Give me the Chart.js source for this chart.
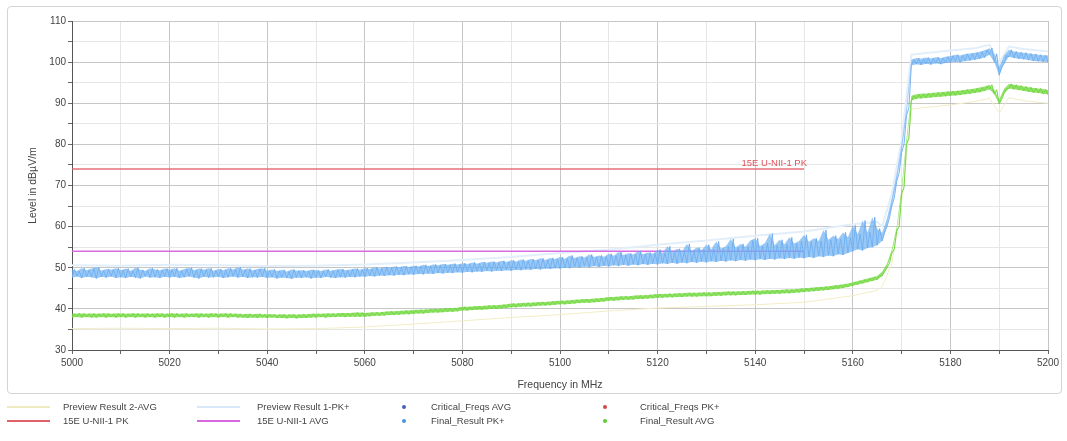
<!DOCTYPE html>
<html>
<head>
<meta charset="utf-8">
<script src="https://cdn.jsdelivr.net/npm/chart.js@4/dist/chart.umd.min.js"></script>
<style>
  html, body { margin: 0; padding: 0; background: #fff; }
  body { width: 1067px; height: 441px; position: relative; overflow: hidden; font-family: "Liberation Sans", Arial, sans-serif; }
  #frame { position: absolute; left: 7px; top: 6px; width: 1053px; height: 386px; border: 1px solid #d4d4d4; border-radius: 4px; }
  #chart { position: absolute; left: 0; top: 0; }
  #legend { position: absolute; left: 0; top: 398px; width: 1067px; height: 40px; font-size: 9.5px; color: #444; }
  .item { position: absolute; height: 14px; line-height: 14px; white-space: nowrap; }
  .item .sym { position: absolute; top: 0; height: 14px; }
  .item .sym.line i { position: absolute; left: 0; right: 0; top: 6px; height: 2px; }
  .item .sym.dot i { position: absolute; left: 50%; top: 5px; width: 4px; height: 4px; margin-left: -2px; border-radius: 2px; }
  .item span { position: absolute; }
</style>
</head>
<body>
<div id="frame"></div>
<canvas id="chart" width="1067" height="441"></canvas>
<div id="legend"></div>
<script>
// frequency axis, one sample per MHz
const freqStart = 5000;
const freqEnd = 5200;
const freq = [];
for (let f = freqStart; f <= freqEnd; f++) freq.push(f);

// PK+ trace: lower and upper edge of the noise band
const pkLow = [
  47.6,47.9,47.5,47.8,47.7,47.4,47.8,47.6,47.9,47.5,
  47.7,47.5,47.8,47.6,47.4,47.9,47.6,47.7,47.5,47.8,
  47.6,47.8,47.5,47.7,47.9,47.6,47.4,47.8,47.6,47.7,
  47.8,47.5,47.7,47.9,47.6,47.8,47.5,47.7,47.6,47.8,
  47.5,47.7,47.4,47.6,47.5,47.3,47.6,47.5,47.7,47.4,
  47.6,47.5,47.8,47.6,47.5,47.7,47.6,47.8,47.7,47.9,
  47.8,48.0,47.9,48.1,48.0,48.2,48.1,48.3,48.2,48.4,
  48.3,48.5,48.4,48.6,48.5,48.7,48.6,48.8,48.7,48.9,
  48.8,49.0,48.9,49.1,49.0,49.2,49.1,49.3,49.2,49.4,
  49.3,49.5,49.4,49.6,49.5,49.7,49.6,49.8,49.7,49.9,
  49.8,50.0,49.9,50.2,50.0,50.3,50.1,50.4,50.2,50.5,
  50.3,50.6,50.4,50.7,50.5,50.8,50.6,50.9,50.7,51.0,
  50.8,51.1,50.9,51.2,51.0,51.3,51.1,51.4,51.2,51.5,
  51.3,51.6,51.4,51.7,51.5,51.8,51.6,51.9,51.7,52.0,
  51.8,52.1,51.9,52.2,52.0,52.3,52.1,52.4,52.2,52.5,
  52.3,52.6,52.4,52.8,52.6,53.0,52.8,53.3,53.1,53.6,
  54.0,54.5,54.2,54.8,55.0,55.5,56.5,60.0,65.0,71.0,
  78.0,87.0,99.2,99.5,99.3,99.6,99.4,99.7,99.5,99.8,
  99.9,100.1,100.0,100.3,100.4,100.6,100.8,101.1,101.8,100.0,
  96.8,99.6,101.3,101.0,100.8,100.7,100.5,100.3,100.2,100.1,
  100.0
];
const pkHigh = [
  49.6,49.2,49.9,49.4,49.8,50.1,49.3,49.7,49.5,49.9,
  49.4,49.8,49.2,50.0,49.5,49.3,49.9,49.6,49.4,49.8,
  49.5,49.9,49.3,49.7,50.0,49.4,49.8,49.5,49.9,49.3,
  49.7,49.4,49.9,49.6,50.1,49.5,49.8,49.4,49.7,49.9,
  49.3,49.6,49.2,49.5,49.1,49.6,49.3,49.4,49.2,49.5,
  49.4,49.2,49.6,49.3,49.5,49.7,49.4,49.6,49.8,49.5,
  49.9,49.7,50.1,49.8,50.2,50.0,50.3,50.1,50.4,50.2,
  50.5,50.3,50.7,50.4,50.8,50.6,50.9,50.7,51.0,50.8,
  51.1,50.9,51.3,51.0,51.4,51.2,51.5,51.3,51.7,51.4,
  51.8,51.5,52.0,51.7,52.1,51.8,52.3,51.9,52.4,52.1,
  52.6,52.2,53.0,52.4,52.8,52.5,53.2,52.6,53.0,52.7,
  53.4,52.9,53.8,53.1,53.5,53.2,54.0,53.3,53.7,53.4,
  54.4,53.6,55.2,53.8,54.6,54.0,55.8,54.1,54.9,54.3,
  55.6,54.5,56.4,54.7,55.2,57.0,54.9,55.8,55.1,56.6,
  57.2,55.3,56.0,58.3,55.5,56.8,55.7,57.4,55.9,56.5,
  58.0,56.3,57.2,56.5,59.2,56.8,57.8,57.0,58.6,57.4,
  60.3,58.2,61.5,58.6,62.3,59.5,58.5,62.0,67.0,73.0,
  80.0,89.0,100.6,101.0,100.8,101.1,100.9,101.2,101.0,101.3,
  101.5,101.8,101.6,102.0,102.1,102.3,102.5,102.9,103.4,102.0,
  98.8,101.6,103.0,102.6,102.4,102.3,102.1,102.0,101.8,101.7,
  101.6
];

// AVG trace: lower and upper edge
const avgLow = [
  37.9,38.0,37.9,38.0,37.9,37.9,38.0,37.9,38.0,37.9,
  38.0,37.9,38.0,37.9,38.0,37.9,38.0,37.9,38.0,37.9,
  38.0,37.9,38.0,37.9,38.0,38.0,37.9,38.0,37.9,38.0,
  37.9,38.0,37.9,38.0,37.9,37.9,37.8,37.9,37.8,37.9,
  37.8,37.9,37.8,37.8,37.7,37.8,37.7,37.8,37.8,37.9,
  37.9,38.0,37.9,38.0,38.0,38.1,38.0,38.1,38.1,38.1,
  38.1,38.2,38.3,38.3,38.4,38.5,38.5,38.6,38.7,38.7,
  38.8,38.9,38.9,39.0,39.1,39.1,39.2,39.3,39.3,39.4,
  39.6,39.6,39.7,39.8,39.8,39.9,40.0,40.0,40.1,40.2,
  40.4,40.4,40.5,40.6,40.6,40.7,40.8,40.8,40.9,41.0,
  41.1,41.1,41.2,41.3,41.4,41.5,41.5,41.6,41.7,41.8,
  42.0,42.0,42.1,42.2,42.2,42.3,42.4,42.4,42.5,42.6,
  42.7,42.7,42.8,42.8,42.9,42.9,43.0,43.0,43.0,43.1,
  43.1,43.1,43.2,43.2,43.3,43.3,43.3,43.4,43.4,43.5,
  43.5,43.5,43.6,43.6,43.7,43.7,43.8,43.8,43.9,44.0,
  44.1,44.2,44.3,44.4,44.5,44.6,44.8,44.9,45.1,45.3,
  45.6,45.9,46.2,46.5,46.8,47.1,48.0,50.0,53.5,59.0,
  68.0,80.0,90.6,91.1,91.2,91.3,91.4,91.5,91.6,91.7,
  91.8,91.9,92.0,92.2,92.3,92.5,92.7,93.0,93.4,92.2,
  89.8,92.4,93.6,93.4,93.2,93.0,92.8,92.6,92.5,92.3,
  92.1
];
const avgHigh = [
  38.8,38.9,38.9,38.8,38.9,38.8,38.9,38.9,38.8,38.9,
  38.9,38.8,38.9,38.9,38.8,38.9,38.8,38.9,38.9,38.8,
  38.9,38.9,38.8,38.9,38.8,38.9,38.9,38.8,38.9,38.9,
  38.8,38.9,38.9,38.8,38.8,38.7,38.8,38.7,38.8,38.7,
  38.7,38.7,38.6,38.7,38.6,38.7,38.6,38.7,38.7,38.8,
  38.8,38.8,38.9,38.9,38.9,39.0,39.0,39.0,39.1,39.1,
  39.0,39.1,39.2,39.2,39.3,39.4,39.4,39.5,39.6,39.6,
  39.7,39.8,39.8,39.9,40.0,40.0,40.1,40.2,40.2,40.3,
  40.5,40.5,40.6,40.7,40.7,40.8,40.9,40.9,41.0,41.1,
  41.3,41.3,41.4,41.5,41.5,41.6,41.7,41.7,41.8,41.9,
  42.0,42.0,42.1,42.2,42.3,42.4,42.4,42.5,42.6,42.7,
  42.9,42.9,43.0,43.1,43.1,43.2,43.3,43.3,43.4,43.5,
  43.6,43.6,43.7,43.7,43.8,43.8,43.9,43.9,43.9,44.0,
  44.0,44.0,44.1,44.1,44.2,44.2,44.2,44.3,44.3,44.4,
  44.4,44.4,44.5,44.5,44.6,44.6,44.7,44.7,44.8,44.9,
  45.0,45.1,45.2,45.3,45.4,45.5,45.7,45.8,46.0,46.2,
  46.5,46.8,47.1,47.4,47.7,48.0,49.0,51.0,54.5,60.0,
  69.5,81.5,91.8,92.2,92.3,92.4,92.5,92.6,92.7,92.8,
  92.9,93.0,93.1,93.3,93.4,93.6,93.8,94.1,94.5,93.3,
  90.9,93.5,94.7,94.5,94.3,94.1,93.9,93.7,93.6,93.4,
  93.2
];

// faint preview traces
const previewFreq = [5000,5010,5020,5030,5040,5050,5060,5070,5080,5090,5100,5110,5120,5130,5140,5150,5160,5165,5166,5168,5170,5172,5175,5180,5185,5188,5190,5192,5195,5200];
const previewAvg = [35.2,35.3,35.2,35.3,35.1,35.2,35.6,36.3,37.1,37.9,38.6,39.5,40.2,40.6,41.0,41.6,43.2,44.5,45.4,51.0,65.5,88.6,89.0,89.6,90.4,91.2,87.6,91.4,90.6,90.0];
const previewPk = [50.6,50.5,50.7,50.6,50.4,50.5,50.8,51.3,51.9,52.6,53.6,54.4,55.6,56.6,57.8,58.8,60.6,61.2,60.0,68.0,81.0,101.8,102.2,102.8,103.4,104.2,99.8,103.8,103.2,102.6];

// limit lines
const limitFreq = [5000, 5150];
const limitPk = [74, 74];
const limitAvg = [54, 54];
const limitPkLabel = "15E U-NII-1 PK";

// axis ticks
const yMin = 30, yMax = 110, yStep = 5, yLabelEvery = 10;
const xStep = 10, xLabelEvery = 20;

const zigzag = (lo, hi) => {
  const pts = [];
  for (let i = 0; i < freq.length; i++) {
    pts.push({ x: freq[i], y: lo[i] });
    pts.push({ x: freq[i] + 0.5, y: hi[i] });
  }
  return pts;
};
const pairs = (xs, ys) => xs.map((x, i) => ({ x: x, y: ys[i] }));

// series shown in the legend (4 columns x 2 rows)
const datasets = [
  { label: "Preview Result 2-AVG", data: pairs(previewFreq, previewAvg), borderColor: "#f1eec6", borderWidth: 1, order: 9, legend: { kind: "line", col: 0, row: 0, color: "#eeebc0" } },
  { label: "15E U-NII-1 PK", data: pairs(limitFreq, limitPk), borderColor: "rgba(226,96,104,0.9)", borderWidth: 1.6, order: 3, legend: { kind: "line", col: 0, row: 1, color: "#e06068" } },
  { label: "Preview Result 1-PK+", data: pairs(previewFreq, previewPk), borderColor: "#e2eefa", borderWidth: 2, order: 8, legend: { kind: "line", col: 1, row: 0, color: "#d8e8f8" } },
  { label: "15E U-NII-1 AVG", data: pairs(limitFreq, limitAvg), borderColor: "rgba(214,100,226,0.95)", borderWidth: 1.6, order: 6, legend: { kind: "line", col: 1, row: 1, color: "#d868e0" } },
  { label: "Critical_Freqs AVG", data: [], legend: { kind: "dot", col: 2, row: 0, color: "#4a5fc4" } },
  { label: "Final_Result PK+", data: zigzag(pkLow, pkHigh), borderColor: "rgba(92,162,236,0.8)", borderWidth: 1, order: 4, legend: { kind: "dot", col: 2, row: 1, color: "#4a94e0" } },
  { label: "Critical_Freqs PK+", data: [], legend: { kind: "dot", col: 3, row: 0, color: "#d04848" } },
  { label: "Final_Result AVG", data: zigzag(avgLow, avgHigh), borderColor: "rgba(100,210,50,0.9)", borderWidth: 1, order: 5, legend: { kind: "dot", col: 3, row: 1, color: "#5ccc30" } },
];

// filled bands between the edges (no legend entry)
const bands = [
  { label: "pk-low", data: pairs(freq, pkLow), borderWidth: 0, borderColor: "transparent", order: 4 },
  { label: "pk-high", data: pairs(freq, pkHigh), borderWidth: 0, borderColor: "transparent", backgroundColor: "rgba(110,176,242,0.7)", fill: "-1", order: 4 },
  { label: "avg-low", data: pairs(freq, avgLow), borderWidth: 0, borderColor: "transparent", order: 5 },
  { label: "avg-high", data: pairs(freq, avgHigh), borderWidth: 0, borderColor: "transparent", backgroundColor: "rgba(112,216,60,0.75)", fill: "-1", order: 5 },
];

const gridColor = (major) => (ctx) => {
  const v = ctx.tick ? ctx.tick.value : null;
  return v !== null && v % major === 0 ? "#c6c6c6" : "#e6e6e6";
};

// axis titles and limit label
const textPlugin = {
  id: "texts",
  afterDraw(chart) {
    const { ctx, chartArea, scales } = chart;
    ctx.save();
    ctx.fillStyle = "#444";
    ctx.font = "10.5px 'Liberation Sans', Arial, sans-serif";
    ctx.textAlign = "center";
    ctx.textBaseline = "middle";
    ctx.fillText("Frequency in MHz", (chartArea.left + chartArea.right) / 2, 385);
    ctx.translate(33, (chartArea.top + chartArea.bottom) / 2);
    ctx.rotate(-Math.PI / 2);
    ctx.fillText("Level in dB\u00b5V/m", 0, 0);
    ctx.restore();

    ctx.save();
    ctx.fillStyle = "rgb(222,84,92)";
    ctx.font = "9.5px 'Liberation Sans', Arial, sans-serif";
    ctx.textAlign = "right";
    ctx.textBaseline = "bottom";
    ctx.fillText(limitPkLabel, scales.x.getPixelForValue(limitFreq[1]) + 3, scales.y.getPixelForValue(limitPk[1]) - 1);
    ctx.restore();
  },
};

new Chart(document.getElementById("chart"), {
  type: "line",
  data: {
    datasets: bands.concat(datasets).map((d) => Object.assign({ pointRadius: 0, fill: false, tension: 0 }, d)),
  },
  options: {
    responsive: false,
    animation: false,
    devicePixelRatio: 1,
    parsing: false,
    normalized: true,
    layout: { padding: { left: 0, top: 21, right: 19, bottom: 61 } },
    plugins: { legend: { display: false }, tooltip: { enabled: false }, filler: { propagate: false } },
    scales: {
      x: {
        type: "linear",
        min: freqStart,
        max: freqEnd,
        afterFit: (s) => { s.height = 30; },
        ticks: {
          stepSize: xStep,
          autoSkip: false,
          maxRotation: 0,
          color: "#444",
          font: { family: "'Liberation Sans', Arial, sans-serif", size: 10 },
          padding: 3,
          callback: (v) => (v % xLabelEvery === 0 ? String(v) : ""),
        },
        grid: { color: gridColor(xLabelEvery), tickColor: "#666", tickLength: 4 },
        border: { color: "#555", width: 1 },
      },
      y: {
        min: yMin,
        max: yMax,
        afterFit: (s) => { s.width = 72; },
        ticks: {
          stepSize: yStep,
          autoSkip: false,
          color: "#444",
          font: { family: "'Liberation Sans', Arial, sans-serif", size: 10 },
          padding: 2,
          callback: (v) => (v % yLabelEvery === 0 ? String(v) : ""),
        },
        grid: { color: gridColor(yLabelEvery), tickColor: "#666", tickLength: 4 },
        border: { color: "#555", width: 1 },
      },
    },
  },
  plugins: [textPlugin],
});

// legend under the frame, built from the datasets
const legendCols = [
  { sym: 7, symW: 43, text: 63 },
  { sym: 197, symW: 43, text: 257 },
  { sym: 390, symW: 28, text: 431 },
  { sym: 591, symW: 28, text: 640 },
];
const legendRowTop = [2, 16];
const legendEl = document.getElementById("legend");
datasets.forEach((d) => {
  const c = legendCols[d.legend.col];
  const item = document.createElement("div");
  item.className = "item";
  item.style.left = "0px";
  item.style.top = legendRowTop[d.legend.row] + "px";
  const sym = document.createElement("div");
  sym.className = "sym " + d.legend.kind;
  sym.style.left = c.sym + "px";
  sym.style.width = c.symW + "px";
  const mark = document.createElement("i");
  mark.style.background = d.legend.color;
  sym.appendChild(mark);
  const txt = document.createElement("span");
  txt.style.left = c.text + "px";
  txt.textContent = d.label;
  item.appendChild(sym);
  item.appendChild(txt);
  legendEl.appendChild(item);
});
</script>
</body>
</html>
